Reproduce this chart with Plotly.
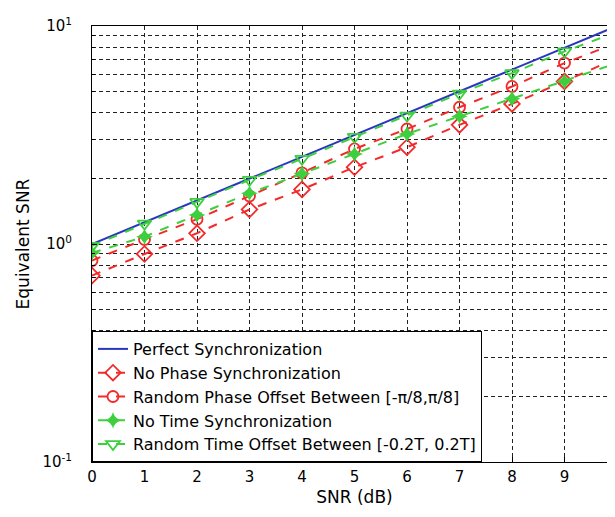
import plotly.graph_objects as go

snr_db = [0, 1, 2, 3, 4, 5, 6, 7, 8, 9, 10]
perfect_sync = [1.0, 1.26, 1.58, 2.0, 2.51, 3.16, 3.98, 5.01, 6.31, 7.94, 10.0]
no_phase_sync = [0.716, 0.90, 1.12, 1.44, 1.78, 2.25, 2.78, 3.52, 4.39, 5.57, 7.13]
rand_phase_offset = [0.84, 1.05, 1.30, 1.66, 2.12, 2.73, 3.37, 4.24, 5.28, 6.76, 8.36]
no_time_sync = [0.91, 1.08, 1.36, 1.71, 2.10, 2.59, 3.20, 3.85, 4.64, 5.57, 6.76]
rand_time_offset = [0.98, 1.24, 1.56, 1.97, 2.46, 3.10, 3.88, 4.90, 6.08, 7.65, 9.38]

names = [
    "Perfect Synchronization",
    "No Phase Synchronization",
    "Random Phase Offset Between [-π/8,π/8]",
    "No Time Synchronization",
    "Random Time Offset Between [-0.2T, 0.2T]",
]

y_ticks = [0.1, 1, 10]
y_ticktext = ["10<sup>-1</sup>", "10<sup>0</sup>", "10<sup>1</sup>"]
y_minor = [0.2, 0.3, 0.4, 0.5, 0.6, 0.7, 0.8, 0.9, 2, 3, 4, 5, 6, 7, 8, 9]

BLUE = "#2a36c0"
RED = "#f22a2a"
GREEN = "#3ecf3e"
FONT = "DejaVu Sans, Verdana, sans-serif"

fig = go.Figure()
fig.add_trace(go.Scatter(x=snr_db, y=perfect_sync, mode="lines", name=names[0],
                         line=dict(color=BLUE, width=2)))
fig.add_trace(go.Scatter(x=snr_db, y=no_phase_sync, mode="lines+markers", name=names[1],
                         line=dict(color=RED, width=2, dash="dash"),
                         marker=dict(symbol="diamond-open", size=12, color=RED, line=dict(width=1.8))))
fig.add_trace(go.Scatter(x=snr_db, y=rand_phase_offset, mode="lines+markers", name=names[2],
                         line=dict(color=RED, width=2, dash="dash"),
                         marker=dict(symbol="circle-open", size=11, color=RED, line=dict(width=1.8))))
fig.add_trace(go.Scatter(x=snr_db, y=no_time_sync, mode="lines+markers", name=names[3],
                         line=dict(color=GREEN, width=2, dash="dash"),
                         marker=dict(symbol="star-diamond", size=12, color=GREEN)))
fig.add_trace(go.Scatter(x=snr_db, y=rand_time_offset, mode="lines+markers", name=names[4],
                         line=dict(color=GREEN, width=2, dash="dash"),
                         marker=dict(symbol="triangle-down-open", size=12, color=GREEN, line=dict(width=1.8))))

axis_font = dict(family=FONT, size=15, color="black")
grid_common = dict(showgrid=True, gridcolor="#222222", griddash="4px,3px", gridwidth=1,
                   showline=True, linecolor="black", linewidth=1, mirror=True,
                   ticks="inside", ticklen=5, tickcolor="black", zeroline=False,
                   tickfont=axis_font, automargin=False, ticklabeloverflow="allow")

fig.update_xaxes(range=[0, 10], tickmode="array", tickvals=snr_db,
                 title=dict(text="SNR (dB)", font=dict(family=FONT, size=17, color="black"), standoff=6),
                 ticklabelstandoff=1, **grid_common)
fig.update_yaxes(type="log", range=[-1, 1], tickmode="array", tickvals=y_ticks, ticktext=y_ticktext,
                 title=dict(text="Equivalent SNR", font=dict(family=FONT, size=17, color="black"), standoff=8),
                 ticklabelstandoff=16,
                 minor=dict(tickmode="array", tickvals=y_minor, showgrid=True, gridcolor="#222222",
                            griddash="4px,3px", gridwidth=1, ticks="inside", ticklen=3, tickcolor="black"),
                 **grid_common)

fig.update_layout(
    width=615, height=517,
    margin=dict(l=84, r=6, t=18, b=63, autoexpand=False),
    plot_bgcolor="white", paper_bgcolor="white",
    font=axis_font,
    legend=dict(x=0.0, y=0.0, xanchor="left", yanchor="bottom",
                bgcolor="white", bordercolor="black", borderwidth=1,
                font=dict(family=FONT, size=16, color="black"),
                tracegroupgap=0, itemwidth=30),
    showlegend=True,
)

fig.write_html("out.html")
